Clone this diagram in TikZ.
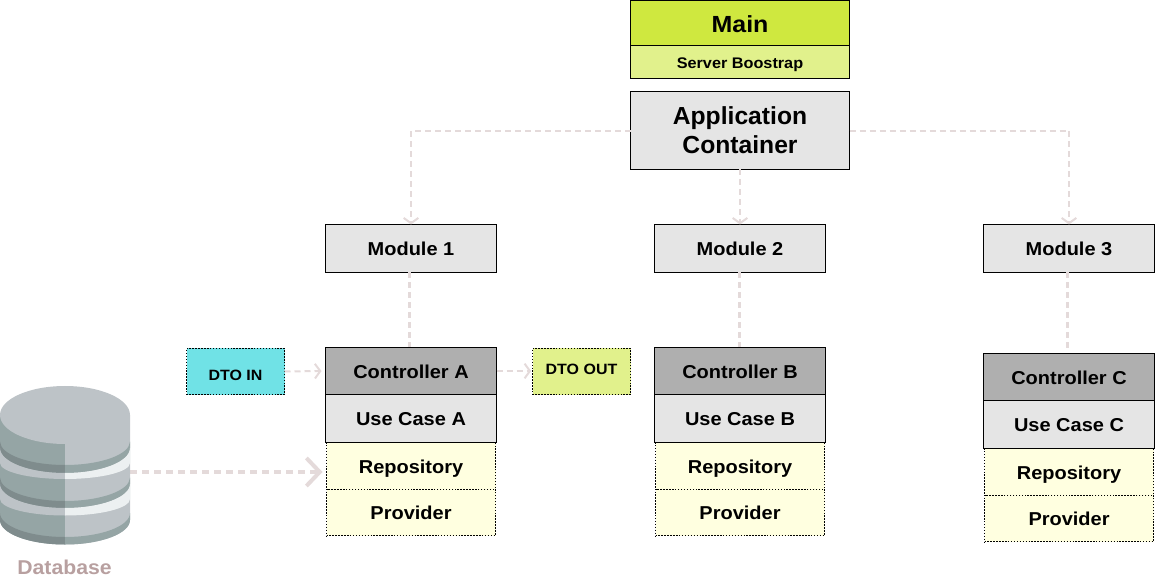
\documentclass[tikz,border=0pt]{standalone}
\usepackage{fontspec}
\setmainfont{Liberation Sans}
\newfontfamily\fwide[FakeStretch=1.07]{Liberation Sans}
\newfontfamily\fmid[FakeStretch=1.06]{Liberation Sans}
\usetikzlibrary{arrows.meta}
\definecolor{lineC}{HTML}{E4DADA}
\definecolor{dbA}{HTML}{BDC3C7}
\definecolor{dbB}{HTML}{95A5A5}
\definecolor{dbC}{HTML}{7F8C8D}
\definecolor{dbW}{HTML}{ECF0F1}
\definecolor{repoC}{HTML}{FFFFE0}
\newcommand{\crescent}[5]{\fill[#1] (0,#2) arc[start angle=180,end angle=0,x radius=65,y radius=#3] -- (130,#4) arc[start angle=0,end angle=180,x radius=65,y radius=#5] -- cycle;}
\newcommand{\dbbands}[3]{%
  \fill[#1] (0,415) -- (130,415) -- (130,520) arc[start angle=0,end angle=180,x radius=65,y radius=24.5] -- cycle;
  \crescent{#2}{441.5}{23.5}{448}{25}
  \crescent{#3}{448}{25}{463}{16}
  \crescent{#2}{477.5}{23.5}{484}{24}
  \crescent{#3}{484}{24}{499}{16.5}
  \crescent{#2}{513}{24}{520}{24.5}
}
\tikzset{
  x=0.75pt,y=-0.75pt,
  every node/.style={inner sep=0pt,outer sep=0pt,align=center,font=\bfseries},
  solidbox/.style={draw=black,line width=0.75pt,rectangle,anchor=north west},
  dotbox/.style={draw=black,line width=0.75pt,dash pattern=on 1.1pt off 1.1pt,rectangle,anchor=north west},
  grey/.style={fill=black!10},
  rowtext/.style={font=\fwide\bfseries\fontsize{14pt}{16pt}\selectfont,text height=11.2pt,text depth=0pt},
  ctrl/.style={solidbox,rowtext,fill=black!31.5,minimum width=128.25pt,minimum height=35.25pt,text height=11.6pt},
  usec/.style={solidbox,rowtext,grey,minimum width=128.25pt,minimum height=36pt},
  modbox/.style={solidbox,rowtext,grey,minimum width=128.25pt,minimum height=36pt,text height=10.4pt},
  repo/.style={dotbox,rowtext,fill=repoC,minimum width=126.75pt,minimum height=35pt},
  dto/.style={dotbox,minimum width=73.5pt,minimum height=34.5pt,font=\fwide\bfseries\fontsize{11.2pt}{13pt}\selectfont},
  link/.style={draw=lineC,line width=1.5pt,dash pattern=on 4.5pt off 3pt},
  linkhead/.style={link,-{Straight Barb[length=4pt,width=11pt,line width=1.5pt,color=lineC]}},
  plain/.style={draw=lineC,line width=2.25pt,dash pattern=on 4.5pt off 3pt},
  bigarrow/.style={draw=lineC,line width=3pt,dash pattern=on 5.25pt off 3.75pt,-{Straight Barb[length=10pt,width=21pt,line width=3pt,color=lineC]}},
}
\begin{document}
\begin{tikzpicture}
\useasboundingbox (0,0) rectangle (1155,580);
% connector anchors
\coordinate (dbout) at (130,472);
\coordinate (corner1) at (411,131);
\coordinate (corner3) at (1069,131);
% Boxes
\node[solidbox,fill={rgb,255:red,207;green,232;blue,63},minimum width=164.25pt,minimum height=33.75pt,font=\fwide\bfseries\fontsize{17.5pt}{20pt}\selectfont,text height=14pt,text depth=0pt] (main) at (630.5,0.5) {Main};
\node[solidbox,fill={rgb,255:red,225;green,241;blue,140},minimum width=164.25pt,minimum height=24.75pt,font=\fmid\bfseries\fontsize{11.5pt}{13pt}\selectfont,text height=9.5pt,text depth=0pt] (server) at (630.5,45.5) {Server Boostrap};
\node[solidbox,grey,minimum width=164.25pt,minimum height=58.5pt,font=\bfseries\fontsize{18.5pt}{21.5pt}\selectfont] (app) at (630.5,91.5) {Application\\Container};
\node[modbox] (mod1) at (325.5,224.5) {Module 1};
\node[modbox] (mod2) at (654.5,224.5) {Module 2};
\node[modbox] (mod3) at (983.5,224.5) {Module 3};
\node[dto,fill={rgb,255:red,112;green,226;blue,230},text height=12.8pt,text depth=0pt] (dtoin) at (186.5,348.5) {DTO IN};
\node[dto,fill={rgb,255:red,225;green,241;blue,140},text height=5.2pt,text depth=0pt] (dtoout) at (532.5,348.5) {DTO OUT};
% column A
\node[repo] (repoA) at (326.5,442.5) {Repository};
\node[repo] (provA) at (326.5,489) {Provider};
\node[ctrl] (ctrlA) at (325.5,347.5) {Controller A};
\node[usec] (useA) at (325.5,394.5) {Use Case A};
% column B
\node[repo] (repoB) at (655.5,442.5) {Repository};
\node[repo] (provB) at (655.5,489) {Provider};
\node[ctrl] (ctrlB) at (654.5,347.5) {Controller B};
\node[usec] (useB) at (654.5,394.5) {Use Case B};
% column C
\node[repo] (repoC) at (984.5,448.5) {Repository};
\node[repo] (provC) at (984.5,495) {Provider};
\node[ctrl] (ctrlC) at (983.5,353.5) {Controller C};
\node[usec] (useC) at (983.5,400.5) {Use Case C};
% connectors
\draw[linkhead] (app.west |- corner1) -- (corner1) -- (corner1 |- mod1.north);
\draw[linkhead] (app.east |- corner3) -- (corner3) -- (corner3 |- mod3.north);
\draw[linkhead] (app.south) -- (mod2.north -| app.south);
\coordinate (c1x) at (409.5,300);
\coordinate (c2x) at (739,300);
\coordinate (c3x) at (1067.3,348);
\draw[plain] (c1x |- mod1.south) -- (c1x |- ctrlA.north);
\draw[plain] (c2x |- mod2.south) -- (c2x |- ctrlB.north);
\draw[plain] (c3x |- mod3.south) -- (c3x);
\draw[linkhead,shorten >=3pt] (dtoin.east) -- (ctrlA.west);
\draw[linkhead,shorten >=1pt] (ctrlA.east) -- (dtoout.west |- ctrlA.east);
\draw[bigarrow,shorten >=3pt] (dbout) -- (repoA.west |- dbout);
% database
\begin{scope}
  \clip (0,380) rectangle (65,550);
  \dbbands{dbB}{dbC}{dbA}
\end{scope}
\begin{scope}
  \clip (65,380) rectangle (130,550);
  \dbbands{dbA}{dbB}{dbW}
\end{scope}
\fill[dbA] (65,415) ellipse[x radius=65,y radius=29];
\node[text={rgb,255:red,184;green,160;blue,160},font=\fmid\bfseries\fontsize{15pt}{18pt}\selectfont,text height=11.2pt,text depth=0pt] (dblabel) at (64.5,567.5) {Database};
\end{tikzpicture}
\end{document}
